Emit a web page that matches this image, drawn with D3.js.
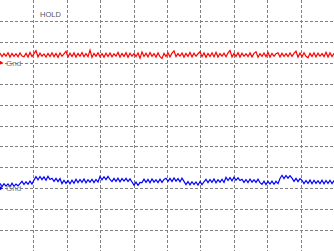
<!DOCTYPE html>
<html>
<head>
<meta charset="utf-8">
<script src="https://cdn.jsdelivr.net/npm/d3@7"></script>
<style>
  html, body { margin: 0; padding: 0; background: #fff; }
  svg { display: block; }
</style>
</head>
<body>
<div id="scope"></div>
<script>
// Readings in mV above each channel's ground (100 mV / div), 168 samples across the screen
const ch1Samples = [
  46,29,44,31,48,27,45,30,43,28,47,32,
  29,45,27,49,30,44,58,28,46,31,42,27,
  45,30,48,29,44,26,47,31,43,55,28,46,
  30,47,27,45,31,49,29,44,28,60,26,45,
  31,48,29,44,27,46,30,47,28,43,31,49,
  27,45,30,48,26,46,31,44,29,47,22,52,
  30,46,28,49,31,44,27,47,29,20,45,30,
  48,28,46,57,29,44,31,47,27,45,30,49,
  28,46,31,43,52,29,47,26,45,30,48,28,
  50,27,44,31,46,29,47,59,28,45,30,48,
  27,46,31,43,29,47,28,45,53,26,44,30,
  47,29,49,27,45,31,43,48,28,46,30,44,
  29,47,31,45,55,27,46,29,48,31,24,45,
  30,48,28,46,31,44,29,50,27,47,30,45
];
const ch2Samples = [
  23,8,22,10,21,7,24,9,20,11,22,
  33,18,31,19,34,20,
  39,55,40,56,41,54,38,57,42,
  48,33,47,32,46,
  22,38,23,37,21,39,24,
  43,27,42,28,44,26,41,29,43,27,42,30,
  56,40,55,41,57,42,
  32,47,33,48,31,46,34,47,32,45,
  30,15,29,14,28,
  27,43,28,42,26,44,29,41,27,43,28,42,
  48,33,47,32,49,34,46,31,48,33,
  17,32,16,31,18,30,15,32,17,31,
  43,27,42,28,44,26,41,29,43,28,
  52,37,51,36,53,38,50,37,
  43,28,42,27,44,29,41,28,43,27,
  19,34,18,33,20,34,19,33,22,
  47,62,46,61,48,60,
  48,33,47,32,46,
  38,22,37,23,39,21,38,23,36,22,38,21,37,23,38,22,37
];
const channels = [
  { name: "CH1", color: "#ff0000", groundDiv: 3, samples: ch1Samples },
  { name: "CH2", color: "#0000ff", groundDiv: -3, samples: ch2Samples }
];
const hDivs = 10, vDivs = 12, mvPerDiv = 100;
const statusText = "HOLD";

const width = 334, height = 251;

const svg = d3.select("#scope").append("svg")
  .attr("width", width)
  .attr("height", height)
  .attr("viewBox", [0, 0, width, height]);

// screen in divisions
const x = d3.scaleLinear().domain([0, hDivs]).range([0, width]);
const y = d3.scaleLinear().domain([vDivs / 2, -vDivs / 2]).range([0, height]);

// dashed graticule
const grid = svg.append("g")
  .attr("stroke", "#808080")
  .attr("stroke-width", 1)
  .attr("stroke-dasharray", "3,2")
  .attr("shape-rendering", "crispEdges");

grid.selectAll(".v")
  .data(d3.range(1, hDivs))
  .enter().append("line")
  .attr("x1", d => Math.round(x(d)) + 0.5)
  .attr("x2", d => Math.round(x(d)) + 0.5)
  .attr("y1", 0).attr("y2", height);

grid.selectAll(".h")
  .data(d3.range(-vDivs / 2 + 1, vDivs / 2))
  .enter().append("line")
  .attr("y1", d => Math.round(y(d)) + 0.5)
  .attr("y2", d => Math.round(y(d)) + 0.5)
  .attr("x1", 0).attr("x2", width);

svg.append("text")
  .attr("x", 40).attr("y", 17)
  .attr("font-family", "Liberation Sans, Arial, sans-serif")
  .attr("font-size", 7.5)
  .attr("fill", "#555")
  .text(statusText);

// traces
channels.forEach(ch => {
  const t = d3.scaleLinear().domain([0, ch.samples.length - 1]).range([0, hDivs]);
  const line = d3.line()
    .x((d, i) => x(t(i)))
    .y(d => y(ch.groundDiv + d / mvPerDiv));

  svg.append("path")
    .datum(ch.samples)
    .attr("fill", "none")
    .attr("stroke", ch.color)
    .attr("stroke-width", 1.2)
    .attr("d", line);

  // ground marker
  const gy = y(ch.groundDiv);
  svg.append("path")
    .attr("d", `M0,${gy - 2}L3,${gy}L0,${gy + 2}Z`)
    .attr("fill", ch.color);
  svg.append("text")
    .attr("x", 6).attr("y", gy + 3)
    .attr("font-family", "Liberation Sans, Arial, sans-serif")
    .attr("font-size", 8)
    .attr("fill", "#777")
    .text("Gnd");
});
</script>
</body>
</html>
